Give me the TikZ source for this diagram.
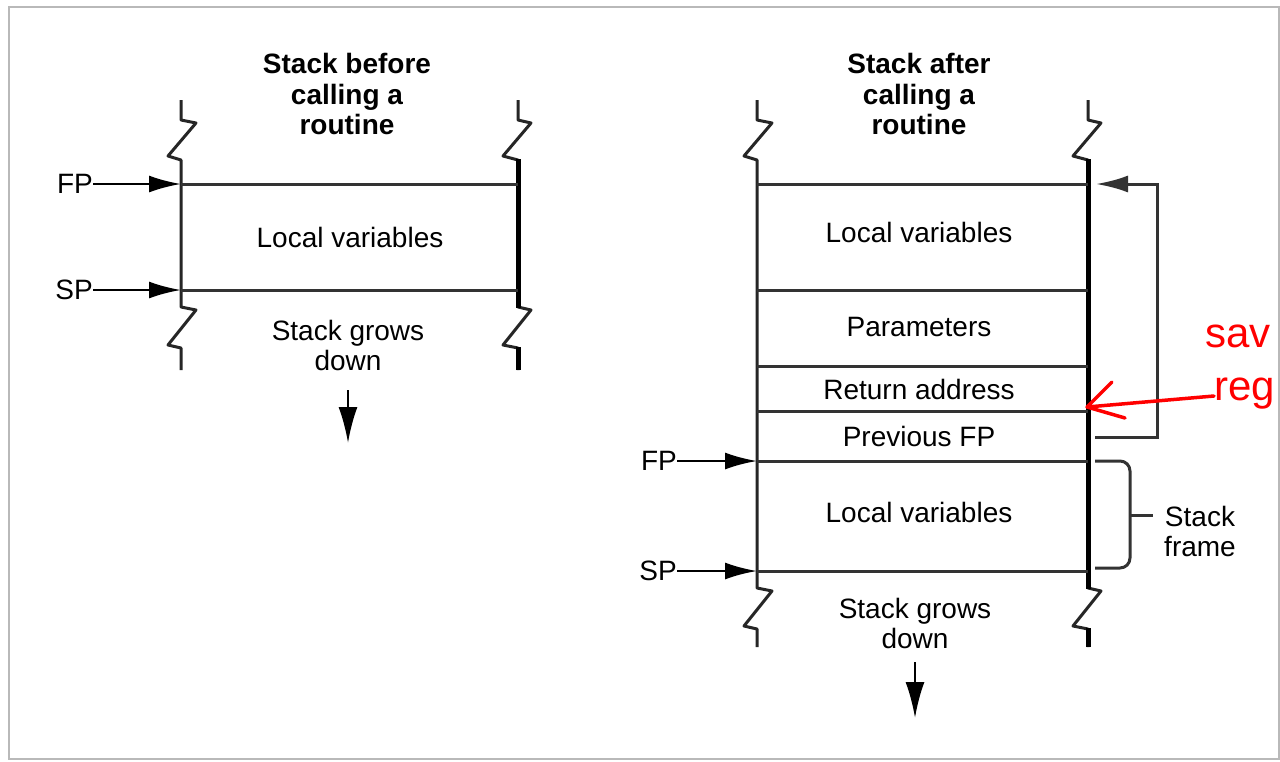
\documentclass[tikz,border=0pt]{standalone}
\usepackage{fontspec}
\setmainfont{Liberation Sans}
\usetikzlibrary{arrows.meta}

\tikzset{
  wall/.style={line width=3pt, black!85, line join=round},
  thickwall/.style={line width=5pt, black},
  row/.style={line width=3pt, black!80},
  lbl/.style={font=\fontsize{28}{30}\selectfont, align=center, inner sep=0pt},
  ttl/.style={font=\fontsize{28}{30.5}\selectfont\bfseries, align=center, inner sep=0pt},
  ptr/.style={line width=2.5pt, black, -{Latex[length=32pt,width=17pt]}},
  growarrow/.style={line width=2.5pt, black, -{Latex[length=36pt,width=19pt]}},
  note/.style={red, font=\fontsize{42}{44}\selectfont, inner sep=0pt},
}

\begin{document}
\begin{tikzpicture}[x=1pt, y=-1pt]
    \useasboundingbox (0,0) rectangle (1280,761);
    \draw[gray!55, line width=2.5pt] (9,7) rectangle (1279,759);

    % stack before the call
    \node[ttl] (t1) at (347,94) {Stack before\\calling a\\routine};
    \coordinate (a1) at (181,184);
    \coordinate (a2) at (518,184);
    \coordinate (b1) at (181,290);
    \coordinate (b2) at (518,290);

    \draw[wall] (181,100) -- ++(0,20) -- ++(15,3) -- ++(-28,33) -- ++(13,4) -- (181,307) -- ++(15,3) -- ++(-28,35) -- ++(13,3) -- (181,370);
    \draw[wall] (518,100) -- ++(0,20) -- ++(13,3) -- ++(-28,33) -- ++(15,4) -- (518,307) -- ++(13,3) -- ++(-28,35) -- ++(15,3) -- (518,370);
    \draw[thickwall] (518,159) -- (518,308);
    \draw[thickwall] (518,347) -- (518,370);
    \draw[row] (a1) -- (a2) (b1) -- (b2);

    \node[lbl] (lv1) at (350,237) {Local variables};
    \node[lbl, anchor=east] (fp1) at (93,184) {FP};
    \node[lbl, anchor=east] (sp1) at (93,290) {SP};
    \draw[ptr] (fp1.east) -- (a1);
    \draw[ptr] (sp1.east) -- (b1);

    \node[lbl] (g1) at (348,345) {Stack grows\\down};
    \coordinate (g1a) at (348,390);
    \coordinate (g1b) at (348,443);
    \draw[growarrow] (g1a) -- (g1b);

    % stack after the call
    \node[ttl] (t2) at (919,94) {Stack after\\calling a\\routine};
    \coordinate (c1) at (757,184);  \coordinate (c2) at (1088,184);
    \coordinate (d1) at (757,290);  \coordinate (d2) at (1088,290);
    \coordinate (e1) at (757,366);  \coordinate (e2) at (1088,366);
    \coordinate (f1) at (757,411);  \coordinate (f2) at (1088,411);
    \coordinate (h1) at (757,461);  \coordinate (h2) at (1088,461);
    \coordinate (k1) at (757,571);  \coordinate (k2) at (1088,571);

    \draw[wall] (757,100) -- ++(0,20) -- ++(15,3) -- ++(-28,33) -- ++(13,4) -- (757,588) -- ++(15,3) -- ++(-28,35) -- ++(13,3) -- (757,647);
    \draw[wall] (1088,100) -- ++(0,20) -- ++(13,3) -- ++(-28,33) -- ++(15,4) -- (1088,588) -- ++(13,3) -- ++(-28,35) -- ++(15,3) -- (1088,647);
    \draw[thickwall] (1088,159) -- (1088,589);
    \draw[thickwall] (1088,628) -- (1088,647);
    \draw[row] (c1) -- (c2) (d1) -- (d2) (e1) -- (e2) (f1) -- (f2) (h1) -- (h2) (k1) -- (k2);

    \node[lbl] (lv2) at (919,232) {Local variables};
    \node[lbl] (par) at (919,327) {Parameters};
    \node[lbl] (ret) at (919,389) {Return address};
    \node[lbl] (pfp) at (919,436) {Previous FP};
    \node[lbl] (lv3) at (919,512) {Local variables};

    \node[lbl, anchor=east] (fp2) at (677,461) {FP};
    \node[lbl, anchor=east] (sp2) at (677,571) {SP};
    \draw[ptr] (fp2.east) -- (h1);
    \draw[ptr] (sp2.east) -- (k1);

    \node[lbl] (g2) at (915,623) {Stack grows\\down};
    \coordinate (g2a) at (915,662);
    \coordinate (g2b) at (915,718);
    \draw[growarrow] (g2a) -- (g2b);

    % saved frame pointer link
    \coordinate (s1) at (1095,437);
    \coordinate (s2) at (1157,437);
    \coordinate (s3) at (1157,184);
    \coordinate (s4) at (1096,184);
    \draw[ptr, line width=3pt, black!80] (s1) -- (s2) -- (s3) -- (s4);

    % stack frame brace
    \coordinate (r1) at (1095,461);
    \coordinate (r2) at (1130,568);
    \coordinate (r3) at (1095,568);
    \draw[row, rounded corners=10pt] (r1) -| (r2) -- (r3);
    \coordinate (q1) at (1130,515);
    \coordinate (q2) at (1153,515);
    \draw[row] (q1) -- (q2);
    \node[lbl] (sf) at (1200,531) {Stack\\frame};

    % red note
    \node[note, anchor=base west] (sav) at (1205,347) {sav};
    \node[note, anchor=base west] (reg) at (1214,400) {reg};
    \coordinate (n1) at (1214,396);
    \coordinate (n2) at (1087,407);
    \draw[red, line width=3.5pt, line cap=round, line join=round] (n1) -- (n2) (1112,382) -- (n2) -- (1125,418);
\end{tikzpicture}
\end{document}
